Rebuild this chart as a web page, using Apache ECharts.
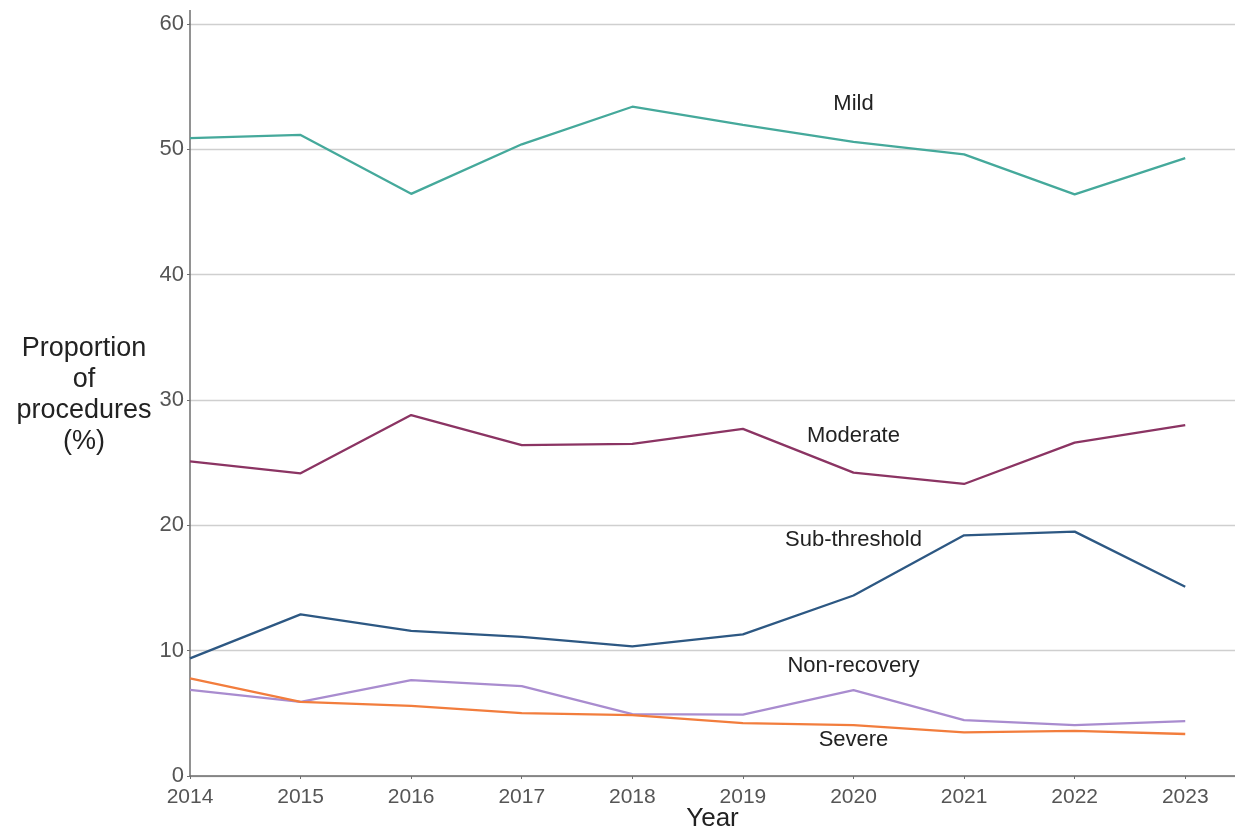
<!DOCTYPE html>
<html>
<head>
<meta charset="utf-8">
<script src="https://cdn.jsdelivr.net/npm/echarts@6/dist/echarts.min.js"></script>
<style>
  html, body { margin: 0; padding: 0; background: #fff; }
  #chart { width: 1235px; height: 829px; }
</style>
</head>
<body>
<div id="chart"></div>
<script>
const years = [2014, 2015, 2016, 2017, 2018, 2019, 2020, 2021, 2022, 2023];

const mild = [50.9, 51.15, 46.45, 50.4, 53.4, 51.95, 50.6, 49.6, 46.4, 49.3];
const moderate = [25.1, 24.15, 28.8, 26.4, 26.5, 27.7, 24.2, 23.3, 26.6, 28.0];
const subThreshold = [9.38, 12.9, 11.58, 11.1, 10.35, 11.3, 14.4, 19.2, 19.5, 15.1];
const nonRecovery = [6.88, 5.92, 7.65, 7.17, 4.94, 4.9, 6.85, 4.46, 4.06, 4.38];
const severe = [7.78, 5.92, 5.6, 5.02, 4.86, 4.22, 4.06, 3.48, 3.6, 3.35];

// where each series name sits, [year, value]
const labelSpots = {
  'Mild': [2020, 53.6],
  'Moderate': [2020, 27.1],
  'Sub-threshold': [2020, 18.8],
  'Non-recovery': [2020, 8.75],
  'Severe': [2020, 2.9]
};

const font = '"Liberation Sans", Arial, sans-serif';

function makeSeries(name, values, color) {
  return {
    name: name,
    type: 'line',
    data: years.map((y, i) => [y, values[i]]),
    showSymbol: false,
    symbol: 'none',
    lineStyle: { color: color, width: 2.3 },
    itemStyle: { color: color },
    silent: true,
    markPoint: {
      symbol: 'circle',
      symbolSize: 0,
      silent: true,
      label: {
        show: true,
        position: 'inside',
        formatter: name,
        color: '#222',
        fontSize: 22,
        fontFamily: font
      },
      data: [{ coord: labelSpots[name] }]
    }
  };
}

const chart = echarts.init(document.getElementById('chart'));

chart.setOption({
  animation: false,
  grid: { left: 190, right: 0, top: 24, bottom: 53, outerBoundsMode: 'none' },
  xAxis: {
    type: 'value',
    min: 2014,
    max: 2023.45,
    interval: 1,
    name: 'Year',
    nameLocation: 'middle',
    nameGap: 30,
    nameMoveOverlap: false,
    nameTextStyle: { fontSize: 26, color: '#222', fontFamily: font },
    axisLine: { lineStyle: { color: '#6e6e6e', width: 1.5 } },
    axisTick: { show: true, length: 3, lineStyle: { color: '#6e6e6e' }, customValues: years },
    axisLabel: {
      customValues: years,
      color: '#555',
      fontSize: 21,
      fontFamily: font,
      margin: 11,
      formatter: v => String(v)
    },
    splitLine: { show: false }
  },
  yAxis: {
    type: 'value',
    min: 0,
    max: 60,
    interval: 10,
    axisLine: { show: true, lineStyle: { color: '#6e6e6e', width: 1.5 } },
    axisTick: { show: true, length: 3, lineStyle: { color: '#6e6e6e' } },
    axisLabel: { color: '#555', fontSize: 22, fontFamily: font, margin: 6 },
    splitLine: { show: true, lineStyle: { color: '#cfcfcf', width: 1.3 } }
  },
  graphic: [
    {
      type: 'line',
      shape: { x1: 190, y1: 10, x2: 190, y2: 24 },
      style: { stroke: '#6e6e6e', lineWidth: 1.5 }
    },
    {
      type: 'text',
      x: 84,
      y: 333,
      style: {
        text: 'Proportion\nof\nprocedures\n(%)',
        fill: '#222',
        fontSize: 27,
        fontFamily: font,
        lineHeight: 31,
        align: 'center',
        verticalAlign: 'top'
      }
    }
  ],
  series: [
    makeSeries('Mild', mild, '#45a99b'),
    makeSeries('Moderate', moderate, '#8b3463'),
    makeSeries('Sub-threshold', subThreshold, '#2d5883'),
    makeSeries('Non-recovery', nonRecovery, '#a98ccf'),
    makeSeries('Severe', severe, '#f27d3d')
  ]
});
</script>
</body>
</html>
